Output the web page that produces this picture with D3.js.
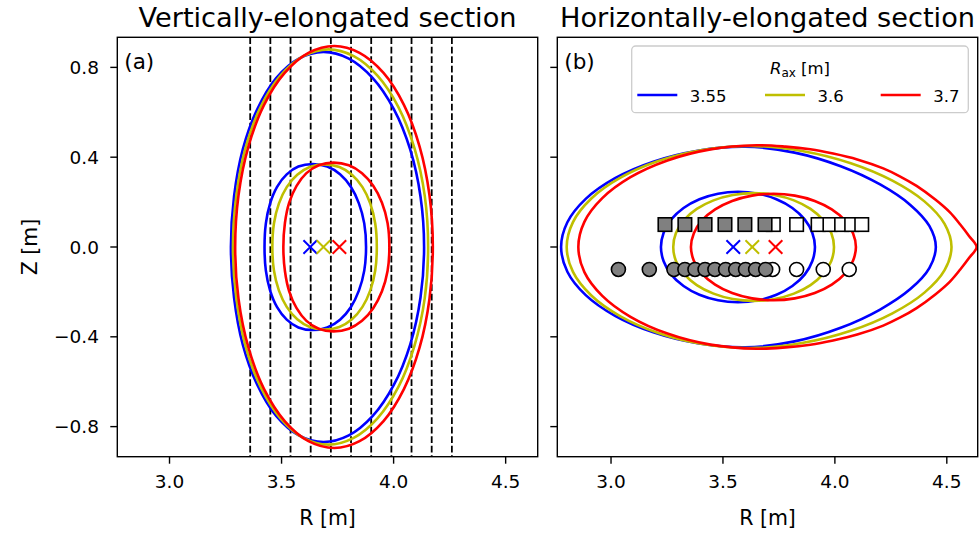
<!DOCTYPE html>
<html><head><meta charset="utf-8">
<script src="https://cdn.jsdelivr.net/npm/d3@7"></script>
<style>body{margin:0;background:#fff}svg{display:block;font-family:"DejaVu Sans",sans-serif}</style>
</head><body>
<svg id="c" width="979" height="536"></svg>
<script>
// ---------------- data ----------------
const rTicks = [3.0, 3.5, 4.0, 4.5];
const zTicks = [0.8, 0.4, 0.0, -0.4, -0.8];
const seriesNames = ["3.55", "3.6", "3.7"];
const seriesColors = ["#0000ff", "#bfbf00", "#ff0000"];
const panelTitles = ["Vertically-elongated section", "Horizontally-elongated section"];
const panelTags = ["(a)", "(b)"];
// vertical chords in panel (a)
const chordR = [3.36, 3.45, 3.54, 3.63, 3.72, 3.81, 3.90, 3.99, 4.08, 4.17, 4.26];
// magnetic axis positions (Z = 0)
const axisRA = [3.628, 3.687, 3.758];
const axisRB = [3.546, 3.631, 3.735];
// flux surfaces: upper half [R, Z] from outboard to inboard (up-down symmetric)
const vertOuter = [
  [[4.136,0],[4.120,0.2249],[4.074,0.4345],[4.001,0.6145],[3.907,0.7526],[3.800,0.8394],[3.687,0.869],[3.577,0.8394],[3.476,0.7526],[3.392,0.6145],[3.327,0.4345],[3.288,0.2249],[3.274,0]],
  [[4.154,0],[4.139,0.2277],[4.093,0.44],[4.022,0.6222],[3.929,0.762],[3.822,0.85],[3.709,0.88],[3.597,0.85],[3.494,0.762],[3.406,0.6222],[3.339,0.44],[3.298,0.2277],[3.283,0]],
  [[4.175,0],[4.160,0.2316],[4.116,0.4475],[4.046,0.6329],[3.955,0.7751],[3.848,0.8645],[3.736,0.895],[3.620,0.8645],[3.514,0.7751],[3.422,0.6329],[3.352,0.4475],[3.308,0.2316],[3.293,0]]
];
const vertInner = [
  [[3.877,0],[3.869,0.1052],[3.845,0.1942],[3.809,0.268],[3.761,0.3236],[3.704,0.3582],[3.639,0.37],[3.575,0.3582],[3.523,0.3236],[3.480,0.268],[3.449,0.1942],[3.430,0.1052],[3.424,0]],
  [[3.925,0],[3.918,0.1047],[3.896,0.1931],[3.861,0.2666],[3.814,0.3219],[3.758,0.3563],[3.692,0.368],[3.626,0.3563],[3.570,0.3219],[3.523,0.2666],[3.488,0.1931],[3.466,0.1047],[3.459,0]],
  [[3.981,0],[3.973,0.1069],[3.948,0.1973],[3.909,0.2724],[3.859,0.3289],[3.800,0.364],[3.732,0.376],[3.666,0.364],[3.611,0.3289],[3.567,0.2724],[3.534,0.1973],[3.515,0.1069],[3.508,0]]
];
const horizOuter = [
  [[4.451,0],[4.422,0.0937],[4.337,0.1875],[4.202,0.2785],[4.026,0.3597],[3.820,0.4204],[3.600,0.447],[3.387,0.4289],[3.189,0.3803],[3.018,0.3067],[2.887,0.2145],[2.805,0.1102],[2.777,0]],
  [[4.521,0],[4.490,0.1032],[4.400,0.2032],[4.257,0.2955],[4.071,0.3732],[3.853,0.4278],[3.620,0.45],[3.408,0.4318],[3.211,0.3828],[3.042,0.3087],[2.912,0.2159],[2.830,0.1109],[2.802,0]],
  [[4.633,0],[4.600,0.048],[4.560,0.10],[4.513,0.155],[4.450,0.21],[4.365,0.272],[4.290,0.315],[4.216,0.350],[4.100,0.39],[3.992,0.416],[3.890,0.435],[3.780,0.447],[3.650,0.453],[3.444,0.4347],[3.252,0.3854],[3.087,0.3108],[2.961,0.2174],[2.881,0.1117],[2.854,0]]
];
const horizInner = [
  [[3.911,0],[3.899,0.0637],[3.865,0.123],[3.810,0.174],[3.739,0.213],[3.656,0.2376],[3.567,0.246],[3.478,0.2376],[3.395,0.213],[3.324,0.174],[3.269,0.123],[3.235,0.0637],[3.223,0]],
  [[3.996,0],[3.984,0.0621],[3.948,0.12],[3.891,0.1697],[3.817,0.2078],[3.730,0.2318],[3.637,0.24],[3.544,0.2318],[3.458,0.2078],[3.383,0.1697],[3.326,0.12],[3.290,0.0621],[3.278,0]],
  [[4.094,0],[4.081,0.0613],[4.045,0.1185],[3.986,0.1676],[3.910,0.2052],[3.821,0.2289],[3.726,0.237],[3.630,0.2289],[3.541,0.2052],[3.465,0.1676],[3.406,0.1185],[3.370,0.0613],[3.357,0]]
];
// measurement points in panel (b)
const squareZ = 0.1;
const squareFilledR = [3.241, 3.330, 3.420, 3.509, 3.598, 3.688];
const squareOpenR = [3.725, 3.829, 3.925, 3.978, 4.03, 4.075, 4.12];
const circleZ = -0.1;
const circleFilledR = [3.033, 3.171, 3.281, 3.330, 3.375, 3.420, 3.464, 3.512, 3.557, 3.601, 3.646, 3.691];
const circleOpenR = [3.722, 3.829, 3.948, 4.064];
const legendTitle = "R";
const legendSub = "ax";
const legendUnit = " [m]";

// ---------------- layout ----------------
const svg = d3.select("#c");
const yTop = 37.3, yBot = 456.7;
const panels = [
  {x0: 117.3, x1: 537.7, dom: [2.767, 4.643]},
  {x0: 557.3, x1: 977.7, dom: [2.760, 4.638]}
];
const y = d3.scaleLinear().domain([-0.934, 0.934]).range([yBot, yTop]);
const fmt = d => (d < 0 ? "\u2212" : "") + Math.abs(d).toFixed(1);

function closedLoop(half) {
  const low = half.slice(1, -1).reverse().map(([r, z]) => [r, -z]);
  return half.concat(low);
}

panels.forEach((p, i) => {
  const x = d3.scaleLinear().domain(p.dom).range([p.x0, p.x1]);
  const g = svg.append("g");
  const clipId = "clip" + i;
  svg.append("clipPath").attr("id", clipId).append("rect")
    .attr("x", p.x0).attr("y", yTop).attr("width", p.x1 - p.x0).attr("height", yBot - yTop);
  const plot = g.append("g").attr("clip-path", `url(#${clipId})`);

  const line = d3.line().x(d => x(d[0])).y(d => y(d[1])).curve(d3.curveCatmullRomClosed.alpha(0.5));

  if (i === 0) {
    plot.selectAll("line.chord").data(chordR).join("line")
      .attr("x1", d => x(d)).attr("x2", d => x(d)).attr("y1", yTop).attr("y2", yBot)
      .attr("stroke", "#000").attr("stroke-width", 1.8).attr("stroke-dasharray", "6.6,2.9");
  }
  const outer = i === 0 ? vertOuter : horizOuter;
  const inner = i === 0 ? vertInner : horizInner;
  [inner, outer].forEach(set => {
    set.forEach((half, k) => {
      plot.append("path").attr("d", line(closedLoop(half)))
        .attr("fill", "none").attr("stroke", seriesColors[k]).attr("stroke-width", 2.6);
    });
  });
  // axis crosses
  const ax = i === 0 ? axisRA : axisRB;
  ax.forEach((r, k) => {
    const cx = x(r), cy = y(0), s = 6.8;
    plot.append("path").attr("d", `M${cx - s},${cy - s}L${cx + s},${cy + s}M${cx - s},${cy + s}L${cx + s},${cy - s}`)
      .attr("stroke", seriesColors[k]).attr("stroke-width", 2);
  });
  if (i === 1) {
    const sq = 13.5;
    plot.selectAll("rect.so").data(squareOpenR).join("rect")
      .attr("x", d => x(d) - sq / 2).attr("y", y(squareZ) - sq / 2).attr("width", sq).attr("height", sq)
      .attr("fill", "#fff").attr("stroke", "#000").attr("stroke-width", 1.6);
    plot.selectAll("rect.sf").data(squareFilledR).join("rect")
      .attr("x", d => x(d) - sq / 2).attr("y", y(squareZ) - sq / 2).attr("width", sq).attr("height", sq)
      .attr("fill", "#808080").attr("stroke", "#000").attr("stroke-width", 1.6);
    plot.selectAll("circle.co").data(circleOpenR).join("circle")
      .attr("cx", d => x(d)).attr("cy", y(circleZ)).attr("r", 7)
      .attr("fill", "#fff").attr("stroke", "#000").attr("stroke-width", 1.6);
    plot.selectAll("circle.cf").data(circleFilledR).join("circle")
      .attr("cx", d => x(d)).attr("cy", y(circleZ)).attr("r", 7)
      .attr("fill", "#808080").attr("stroke", "#000").attr("stroke-width", 1.6);
  }

  // frame
  g.append("rect").attr("x", p.x0).attr("y", yTop).attr("width", p.x1 - p.x0).attr("height", yBot - yTop)
    .attr("fill", "none").attr("stroke", "#000").attr("stroke-width", 1.4);
  // x ticks
  const xa = g.append("g");
  rTicks.forEach(t => {
    xa.append("line").attr("x1", x(t)).attr("x2", x(t)).attr("y1", yBot).attr("y2", yBot + 7)
      .attr("stroke", "#000").attr("stroke-width", 1.4);
    xa.append("text").attr("x", x(t)).attr("y", 488).attr("text-anchor", "middle")
      .attr("font-size", 18.5).attr("fill", "#000").text(t.toFixed(1));
  });
  g.append("text").attr("x", (p.x0 + p.x1) / 2).attr("y", 525).attr("text-anchor", "middle")
    .attr("font-size", 20.5).text("R [m]");
  // y ticks
  zTicks.forEach(t => {
    g.append("line").attr("x1", p.x0 - 7).attr("x2", p.x0).attr("y1", y(t)).attr("y2", y(t))
      .attr("stroke", "#000").attr("stroke-width", 1.4);
    if (i === 0) {
      g.append("text").attr("x", 99).attr("y", y(t) + 6.6).attr("text-anchor", "end")
        .attr("font-size", 18.5).text(fmt(t));
    }
  });
  // title + tag
  g.append("text").attr("x", (p.x0 + p.x1) / 2).attr("y", 26.5).attr("text-anchor", "middle")
    .attr("font-size", 27.2).text(panelTitles[i]);
  g.append("text").attr("x", p.x0 + 7).attr("y", 69).attr("font-size", 21.5).text(panelTags[i]);
});

// y label
svg.append("text").attr("transform", "translate(37,247) rotate(-90)").attr("text-anchor", "middle")
  .attr("font-size", 20.5).text("Z [m]");

// legend
const lg = svg.append("g");
lg.append("rect").attr("x", 631.7).attr("y", 46).attr("width", 336.6).attr("height", 66.7)
  .attr("rx", 4).attr("fill", "#fff").attr("fill-opacity", 0.8).attr("stroke", "#cccccc").attr("stroke-width", 1.3);
const lt = lg.append("text").attr("x", 800).attr("y", 73.5).attr("text-anchor", "middle").attr("font-size", 16.5);
lt.append("tspan").attr("font-style", "italic").text(legendTitle);
lt.append("tspan").attr("font-size", 12).attr("dy", 3).text(legendSub);
lt.append("tspan").attr("dy", -3).text(legendUnit);
const entryX = [637.3, 765, 880.7];
seriesNames.forEach((n, k) => {
  lg.append("line").attr("x1", entryX[k]).attr("x2", entryX[k] + 40).attr("y1", 95).attr("y2", 95)
    .attr("stroke", seriesColors[k]).attr("stroke-width", 2.6);
  lg.append("text").attr("x", entryX[k] + 52.5).attr("y", 101.5).attr("font-size", 16.5).text(n);
});
</script>
</body></html>
